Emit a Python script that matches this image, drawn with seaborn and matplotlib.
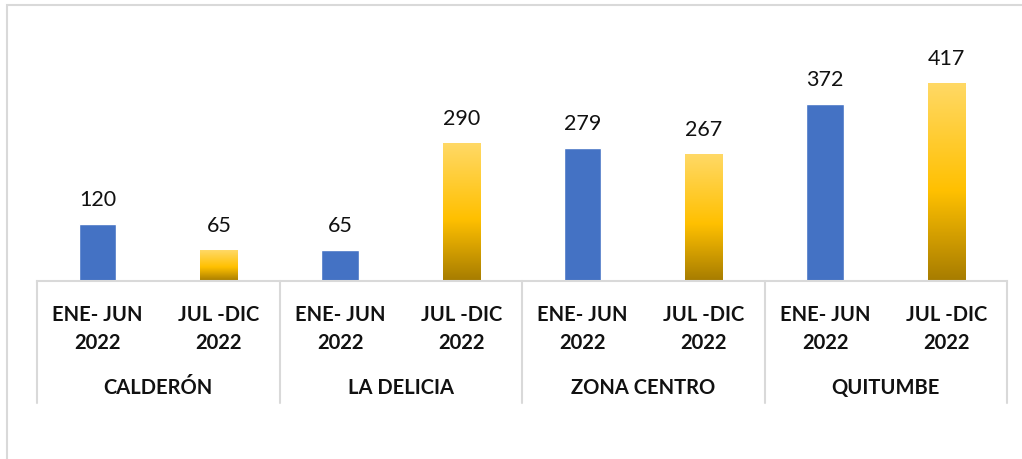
import numpy as np
import pandas as pd
import matplotlib
matplotlib.use("Agg")
import matplotlib.pyplot as plt
import matplotlib.transforms as mtransforms
from matplotlib.colors import LinearSegmentedColormap, to_rgba
from matplotlib.patches import Rectangle
import seaborn as sns

# ---- data ----
zones = ["CALDERÓN", "LA DELICIA", "ZONA CENTRO", "QUITUMBE"]
periods = ["ENE- JUN\n2022", "JUL -DIC\n2022"]
values_ene_jun = [120, 65, 279, 372]
values_jul_dic = [65, 290, 267, 417]

rows = []
for z, a, b in zip(zones, values_ene_jun, values_jul_dic):
    rows.append({"cat": z + "|" + periods[0], "zone": z, "period": periods[0], "value": a})
    rows.append({"cat": z + "|" + periods[1], "zone": z, "period": periods[1], "value": b})
df = pd.DataFrame(rows)

sns.set_theme(style="white")
plt.rcParams["font.family"] = ["Lato", "DejaVu Sans"]

W, H = 1022, 459
fig = plt.figure(figsize=(W / 100, H / 100), dpi=100)
base_px, top_px, left_px, right_px = 281, 67, 37, 1007
ax = fig.add_axes([left_px / W, (H - base_px) / H, (right_px - left_px) / W, (base_px - top_px) / H])

blue = "#4472C4"
gold = "#FFC000"
sns.barplot(data=df, x="cat", y="value", hue="period", dodge=False,
            palette={periods[0]: blue, periods[1]: gold}, width=0.31,
            saturation=1, ax=ax, legend=False)

# gradient fill for the JUL-DIC bars
cmap = LinearSegmentedColormap.from_list(
    "goldgrad", [(0.0, "#A67C00"), (0.45, "#FFC000"), (1.0, "#FFD966")])
grad = np.linspace(0, 1, 256).reshape(-1, 1)
gold_rgba = np.array(to_rgba(gold))
for p in list(ax.patches):
    if p.get_height() > 0 and np.allclose(np.array(p.get_facecolor()), gold_rgba, atol=0.02):
        x0, y0 = p.get_x(), p.get_y()
        w, h = p.get_width(), p.get_height()
        im = ax.imshow(grad, cmap=cmap, origin="lower", aspect="auto",
                       extent=[x0, x0 + w, y0, y0 + h], zorder=p.get_zorder() + 0.1)
        im.set_clip_path(p)
ax.set_xlim(-0.5, len(df) - 0.5)
ax.set_ylim(0, 450)

# value labels
for i, v in enumerate(df["value"]):
    ax.annotate(str(v), (i, v), xytext=(0, 10), textcoords="offset points",
                ha="center", va="bottom", fontsize=15.5, color="#111111")

# axes styling
for s in ["top", "right", "left"]:
    ax.spines[s].set_visible(False)
ax.spines["bottom"].set_color("#D9D9D9")
ax.spines["bottom"].set_linewidth(1.5)
ax.set_yticks([])
ax.set_ylabel("")
ax.set_xlabel("")
ax.set_xticks(range(len(df)))
ax.set_xticklabels(df["period"], fontsize=14.5, fontweight="bold", color="#111111",
                   linespacing=1.55)
ax.tick_params(axis="x", length=0, pad=17)

# group labels and separators
trans = mtransforms.blended_transform_factory(ax.transData, ax.transAxes)
axh = base_px - top_px
for g, z in enumerate(zones):
    ax.text(2 * g + 0.5, -(388 - base_px) / axh, z, transform=trans, ha="center", va="center",
            fontsize=14.5, fontweight="bold", color="#111111")
for xb in np.arange(-0.5, len(df), 2):
    ax.plot([xb, xb], [0, -(403 - base_px) / axh], transform=trans, color="#D9D9D9",
            lw=1.5, clip_on=False)

# outer chart border
fig.patches.append(Rectangle((7 / W, -0.1), 1.2, 1 - 5 / H + 0.1, transform=fig.transFigure,
                             fill=False, edgecolor="#D9D9D9", lw=1.5))

fig.savefig("out.png", dpi=100, facecolor="white")
